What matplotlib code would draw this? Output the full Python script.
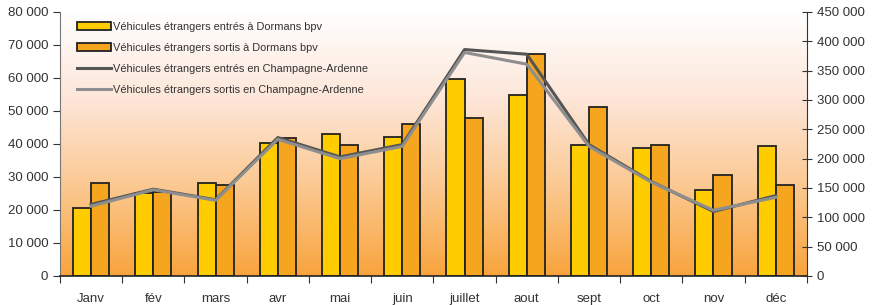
import numpy as np
import matplotlib.pyplot as plt
from matplotlib.colors import LinearSegmentedColormap
from matplotlib.ticker import FuncFormatter

plt.rcParams['font.family'] = ['Liberation Sans', 'DejaVu Sans']

months = ['Janv', 'fév', 'mars', 'avr', 'mai', 'juin', 'juillet', 'aout', 'sept', 'oct', 'nov', 'déc']
entres_dormans = [20600, 25100, 28200, 40300, 42900, 42100, 59800, 54900, 39700, 38800, 26100, 39300]
sortis_dormans = [28200, 25500, 27600, 41900, 39700, 46000, 47900, 67300, 51300, 39700, 30600, 27600]
entres_ca = [122000, 148000, 130000, 236000, 203000, 224000, 386000, 378000, 224000, 161000, 110000, 137000]
sortis_ca = [119000, 147000, 129000, 233000, 200000, 221000, 381000, 361000, 221000, 160000, 112000, 134000]

fmt = FuncFormatter(lambda v, p: f"{int(v):,}".replace(',', ' '))

fig = plt.figure(figsize=(8.77, 3.05), dpi=100)
ax = fig.add_axes([0.0684, 0.0951, 0.8516, 0.8656])
ax2 = ax.twinx()

# gradient background inside the plot area
cmap = LinearSegmentedColormap.from_list('bg', ['#FFFFFF', '#FDE6D8', '#FBC890', '#F8A43C'])
grad = np.linspace(0, 1, 256).reshape(-1, 1)
ax.imshow(grad, cmap=cmap, aspect='auto', extent=[0, 1, 0, 1],
          transform=ax.transAxes, zorder=0)

x = np.arange(len(months))
w = 0.29
b1 = ax.bar(x - w / 2, entres_dormans, w, color='#FFCC00', edgecolor='#222222', linewidth=1.3,
            label='Véhicules étrangers entrés à Dormans bpv', zorder=2)
b2 = ax.bar(x + w / 2, sortis_dormans, w, color='#F6A51E', edgecolor='#222222', linewidth=1.3,
            label='Véhicules étrangers sortis à Dormans bpv', zorder=2)

l1, = ax2.plot(x, entres_ca, color='#555555', linewidth=2.2,
               label='Véhicules étrangers entrés en Champagne-Ardenne')
l2, = ax2.plot(x, sortis_ca, color='#8E8E8E', linewidth=2.2,
               label='Véhicules étrangers sortis en Champagne-Ardenne')

ax.set_xlim(-0.5, 11.5)
ax.set_ylim(0, 80000)
ax2.set_ylim(0, 450000)
ax.set_yticks(np.arange(0, 80001, 10000))
ax2.set_yticks(np.arange(0, 450001, 50000))
ax.yaxis.set_major_formatter(fmt)
ax2.yaxis.set_major_formatter(fmt)

ax.set_xticks(np.arange(-0.5, 12, 1))
ax.set_xticklabels([])
ax.set_xticks(x, minor=True)
ax.set_xticklabels(months, minor=True)
ax.tick_params(axis='x', which='major', length=5, direction='out', color='#333333')
ax.tick_params(axis='x', which='minor', length=0, pad=12, labelsize=9.5, labelcolor='#333333')
ax.tick_params(axis='y', length=5, direction='out', labelsize=9.5, labelcolor='#333333', color='#333333')
ax2.tick_params(axis='y', length=7, direction='inout', labelsize=9.5, labelcolor='#333333', color='#333333')

for a in (ax, ax2):
    a.spines['top'].set_visible(False)
ax.spines['right'].set_visible(False)
ax2.spines['left'].set_visible(False)
ax2.spines['bottom'].set_visible(False)
ax.spines['left'].set_color('#777777')
ax.spines['bottom'].set_color('#222222')
ax.spines['bottom'].set_linewidth(1.2)
ax2.spines['right'].set_color('#333333')

ax2.legend([b1, b2, l1, l2], [b1.get_label(), b2.get_label(), l1.get_label(), l2.get_label()],
           loc='upper left', bbox_to_anchor=(0.01, 1.0), frameon=False, fontsize=7.9,
           labelspacing=1.0, handlelength=3.1, handleheight=0.8, handletextpad=0.15,
           labelcolor='#333333')

fig.savefig('out.png', dpi=100)
